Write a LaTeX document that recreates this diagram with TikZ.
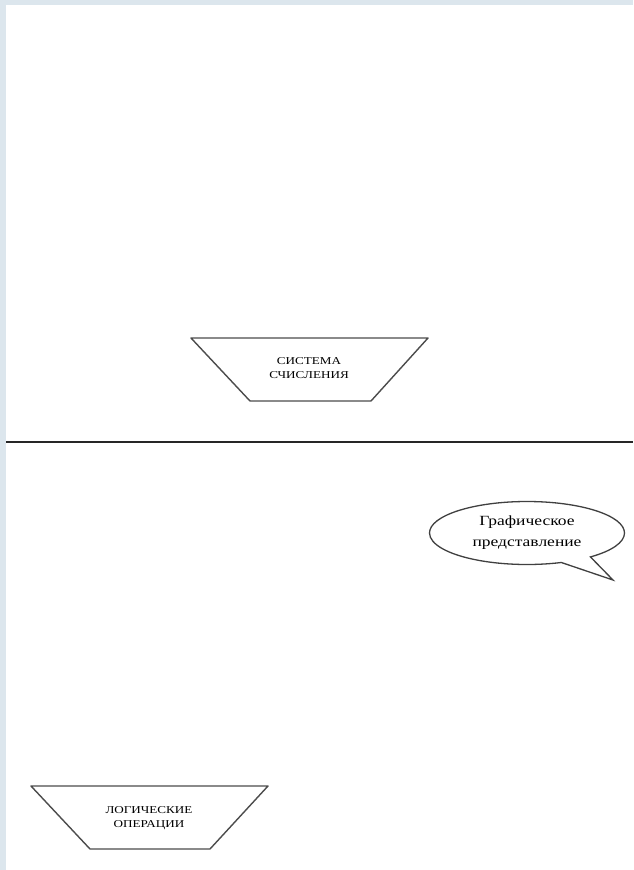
\documentclass[tikz,border=0pt]{standalone}
\usepackage{fontspec}
\setmainfont{Liberation Serif}
\newfontfamily\widefont[FakeStretch=1.25]{Liberation Serif}
\usetikzlibrary{shapes.callouts, positioning}
\definecolor{paneblue}{HTML}{DCE6ED}

\begin{document}
\begin{tikzpicture} [x=1pt, y=-1pt,
  frame/.style = {draw=black!70, line width=1.4pt, line join=round},
  caps/.style = {align=center, inner sep=0, font=\widefont\fontsize{10.5}{14}\selectfont},
  speech/.style = {ellipse callout, draw=black!75, line width=1.3pt, fill=white,
    minimum width=195pt, minimum height=63pt, inner sep=0, callout pointer arc=20,
    align=center, font=\widefont\fontsize{14}{21}\selectfont}]
\useasboundingbox (0,0) rectangle (633,870);
\fill[paneblue] (0,0) rectangle (633,870);
\fill[white] (6,5) rectangle (633,870);

% upper half
\draw[frame] (191,338) -- (428,338) -- (371,401) -- (250,401) -- cycle;
\node[caps] (numsys) at (309,368) {СИСТЕМА\\СЧИСЛЕНИЯ};

\coordinate (sep_l) at (6,442);
\coordinate (sep_r) at (633,442);
\draw[line width=1.8pt, black!85] (sep_l) -- (sep_r);

% lower half
\node[speech, callout absolute pointer={(613,580)}] (graph) at (527,533) {Графическое\\представление};

\draw[frame] (31,786) -- (268,786) -- (210,849) -- (90,849) -- cycle;
\node[caps] (logic) at (149,818) {ЛОГИЧЕСКИЕ\\ОПЕРАЦИИ};

\end{tikzpicture}
\end{document}
